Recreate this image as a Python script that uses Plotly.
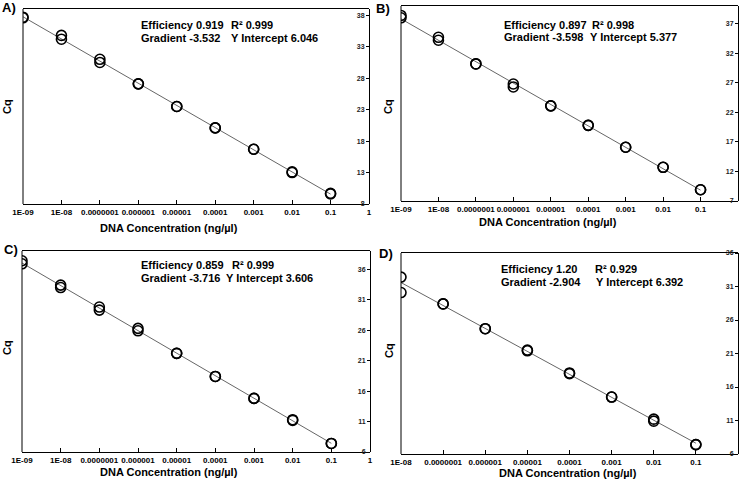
import numpy as np
import plotly.graph_objects as go

# ---------------- data ----------------
tick_vals_AC = [1e-9, 1e-8, 1e-7, 1e-6, 1e-5, 1e-4, 1e-3, 1e-2, 1e-1, 1]
tick_text_AC = ["1E-09", "1E-08", "0.0000001", "0.000001", "0.00001", "0.0001", "0.001", "0.01", "0.1", "1"]
tick_vals_D = [1e-8, 1e-7, 1e-6, 1e-5, 1e-4, 1e-3, 1e-2, 1e-1, 1]
tick_text_D = ["1E-08", "0.0000001", "0.000001", "0.00001", "0.0001", "0.001", "0.01", "0.1", "1"]

conc_A = [1e-9, 1e-9, 1e-8, 1e-8, 1e-7, 1e-7, 1e-6, 1e-6, 1e-5, 1e-5, 1e-4, 1e-4, 1e-3, 1e-3, 1e-2, 1e-2, 1e-1, 1e-1]
cq_A = [37.7, 37.6, 34.8, 34.2, 31.0, 30.5, 27.1, 27.1, 23.5, 23.5, 20.1, 20.1, 16.7, 16.7, 13.1, 13.0, 9.7, 9.6]

conc_B = [1e-9, 1e-9, 1e-8, 1e-8, 1e-7, 1e-7, 1e-6, 1e-6, 1e-5, 1e-5, 1e-4, 1e-4, 1e-3, 1e-3, 1e-2, 1e-2, 1e-1, 1e-1]
cq_B = [38.4, 38.0, 34.7, 34.2, 30.2, 30.2, 26.8, 26.3, 23.1, 23.1, 19.8, 19.8, 16.1, 16.1, 12.7, 12.7, 8.9, 8.9]

conc_C = [1e-9, 1e-9, 1e-8, 1e-8, 1e-7, 1e-7, 1e-6, 1e-6, 1e-5, 1e-5, 1e-4, 1e-4, 1e-3, 1e-3, 1e-2, 1e-2, 1e-1, 1e-1]
cq_C = [37.4, 36.9, 33.4, 33.0, 29.8, 29.3, 26.3, 25.9, 22.2, 22.2, 18.4, 18.4, 14.8, 14.8, 11.3, 11.2, 7.4, 7.4]

conc_D = [1e-8, 1e-8, 1e-7, 1e-7, 1e-6, 1e-6, 1e-5, 1e-5, 1e-4, 1e-4, 1e-3, 1e-3, 1e-2, 1e-2, 1e-1, 1e-1]
cq_D = [32.4, 30.1, 28.4, 28.4, 24.7, 24.7, 21.5, 21.4, 18.1, 18.0, 14.5, 14.5, 11.2, 10.9, 7.4, 7.4]

labels = ["A)", "B)", "C)", "D)"]
stats_line1 = [("Efficiency 0.919", "R² 0.999"), ("Efficiency 0.897", "R² 0.998"),
               ("Efficiency 0.859", "R² 0.999"), ("Efficiency 1.20", "R² 0.929")]
stats_line2 = [("Gradient -3.532", "Y Intercept 6.046"), ("Gradient -3.598", "Y Intercept 5.377"),
               ("Gradient -3.716", "Y Intercept 3.606"), ("Gradient -2.904", "Y Intercept 6.392")]
y_ranges = [(8, 39), (7, 40), (6, 39), (6, 36)]
x_ranges = [(-9, 0), (-9, 0), (-9, 0), (-8, 0)]

# ---------------- layout geometry (pixels) ----------------
W, H = 740, 484
FONT = "Liberation Sans, Arial, sans-serif"
panels = [
    dict(x0=23, x1=369, y0=9, y1=204),
    dict(x0=401, x1=738, y0=6, y1=201),
    dict(x0=22, x1=370, y0=251, y1=452),
    dict(x0=401, x1=738, y0=253, y1=454),
]
label_pos = [(0, 7), (374, 9), (2, 250), (377, 253)]
text_pos = [  # (x col1, x col2, y line1, x col1 line2, x col2 line2, y line2)
    (139, 229, 25, 139, 229, 38),
    (502, 590, 25, 502, 588, 37),
    (139, 230, 265, 139, 224, 278),
    (499, 593, 269, 499, 594, 282),
]
xtitle_pos = [(169, 228), (548, 222), (169, 472), (568, 473)]
cq_pos = [(7, 107), (388, 107), (7, 348), (389, 350)]

datasets = [(conc_A, cq_A), (conc_B, cq_B), (conc_C, cq_C), (conc_D, cq_D)]
ticks = [(tick_vals_AC, tick_text_AC)] * 3 + [(tick_vals_D, tick_text_D)]

fig = go.Figure()
annotations = []
shapes = []


def px(x):
    return x / W


def py(y):
    return 1 - y / H


def ann(text, x, y, size=11, xanchor="left", angle=0):
    annotations.append(dict(text=text, x=px(x), y=py(y), xref="paper", yref="paper",
                            xanchor=xanchor, yanchor="middle", showarrow=False,
                            textangle=angle,
                            font=dict(family=FONT, size=size, color="black", weight="bold")))


for i, ((conc, cq), p) in enumerate(zip(datasets, panels)):
    n = "" if i == 0 else str(i + 1)
    xa, ya = "x" + n, "y" + n
    lx = np.log10(np.array(conc))
    slope, icpt = np.polyfit(lx, np.array(cq), 1)
    xl = np.array([lx.min(), lx.max()])
    fig.add_trace(go.Scatter(x=10 ** xl, y=slope * xl + icpt, mode="lines",
                             line=dict(color="#555555", width=0.9),
                             xaxis=xa, yaxis=ya, showlegend=False, hoverinfo="skip"))
    fig.add_trace(go.Scatter(x=conc, y=cq, mode="markers",
                             marker=dict(symbol="circle-open", size=10, color="black",
                                         line=dict(color="black", width=1.6)),
                             xaxis=xa, yaxis=ya, showlegend=False))
    tv, tt = ticks[i]
    fig.layout["xaxis" + n] = dict(
        type="log", range=list(x_ranges[i]), domain=[px(p["x0"]), px(p["x1"])],
        anchor=ya, tickvals=tv, ticktext=tt, ticks="inside", ticklen=4, tickangle=0,
        tickcolor="black", showline=True, linecolor="black", linewidth=1, mirror=True,
        showgrid=False, zeroline=False, automargin=False,
        tickfont=dict(family=FONT, size=8, color="black", weight="bold"))
    fig.layout["yaxis" + n] = dict(
        range=list(y_ranges[i]), domain=[py(p["y1"]), py(p["y0"])],
        anchor="free", position=px(p["x1"]), side="left",
        tick0=y_ranges[i][0], dtick=5,
        ticks="outside", ticklen=3, tickcolor="black",
        showline=True, linecolor="black", linewidth=1, mirror=False,
        showgrid=False, zeroline=False, automargin=False,
        tickfont=dict(family=FONT, size=7, color="#222222", weight="bold"))
    # left frame edge of the panel
    shapes.append(dict(type="line", xref=xa + " domain", yref=ya + " domain",
                       x0=0, x1=0, y0=0, y1=1, line=dict(color="black", width=1)))

    lxp, lyp = label_pos[i]
    ann(labels[i], lxp, lyp, size=13)
    c1, c2, y1, d1, d2, y2 = text_pos[i]
    ann(stats_line1[i][0], c1, y1)
    ann(stats_line1[i][1], c2, y1)
    ann(stats_line2[i][0], d1, y2)
    ann(stats_line2[i][1], d2, y2)
    tx, ty = xtitle_pos[i]
    ann("DNA Concentration (ng/µl)", tx, ty, size=11, xanchor="center")
    cx, cy = cq_pos[i]
    ann("Cq", cx, cy, size=11, xanchor="center", angle=-90)

fig.update_layout(template="none", width=W, height=H, margin=dict(l=0, r=0, t=0, b=0),
                  paper_bgcolor="white", plot_bgcolor="white", hovermode=False,
                  annotations=annotations, shapes=shapes, font=dict(family=FONT))
fig.write_html("out.html", config={"displayModeBar": False, "staticPlot": True},
               post_script="document.body.style.margin='0';document.body.style.overflow='hidden';")
